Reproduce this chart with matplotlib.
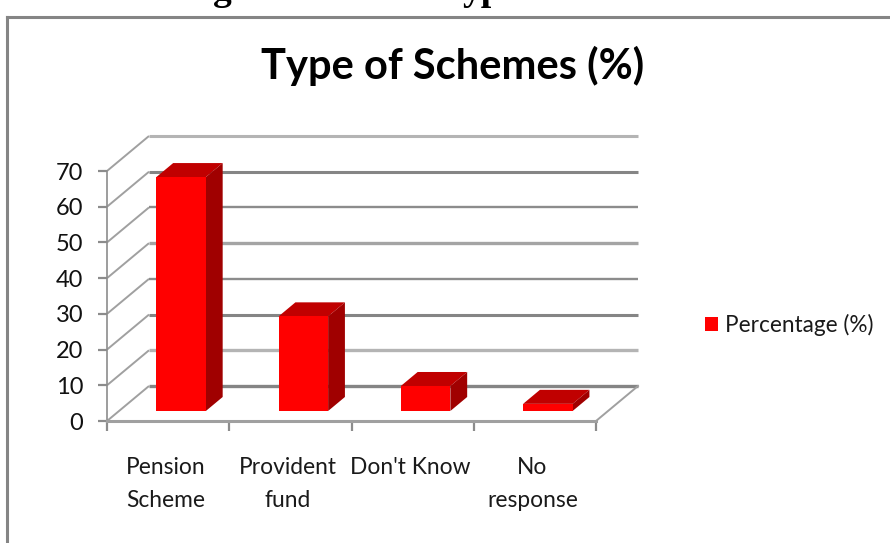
import matplotlib
matplotlib.use("Agg")
import matplotlib.pyplot as plt
from matplotlib.patches import Patch
from matplotlib.lines import Line2D

categories = ["Pension\nScheme", "Provident\nfund", "Don't Know", "No\nresponse"]
values = [65.5, 26.5, 7, 2]
yticks = [0, 10, 20, 30, 40, 50, 60, 70]
series_name = "Percentage (%)"
title = "Type of Schemes (%)"

W, H = 890, 543
FONT = "Lato"
plt.rcParams["font.family"] = [FONT, "DejaVu Sans"]

fig = plt.figure(figsize=(W / 100, H / 100), dpi=100, facecolor="white")

# axes: front plane x 107..596 px for 4 categories, y 421..171 px for 0..70
px_x = (596 - 107) / 4
px_y = (421 - 171) / 70
DX = 42 / px_x
DY = 35 / px_y
ax = fig.add_axes([107 / W, (H - 421) / H, (640 - 107) / W, (421 - 130) / H])
ax.set_xlim(0, (640 - 107) / px_x)
ax.set_ylim(0, (421 - 130) / px_y)
ax.patch.set_alpha(0)


def proj(x, y, d):
    return x + d * DX, y + d * DY


# walls and gridlines
grid_colors = ["#858585", "#b4b4b4", "#858585", "#8c8c8c", "#a4a4a4", "#8c8c8c", "#858585", "#b4b4b4"]
grid_widths = [2.4, 2.4, 2.2, 1.7, 2.4, 1.7, 2.2, 2.2]
n = len(categories)
for v, c, w in zip(yticks, grid_colors, grid_widths):
    x0, y0 = proj(0, v, 0)
    x1, y1 = proj(0, v, 1)
    x2, y2 = proj(n, v, 1)
    ax.plot([x0, x1], [y0, y1], color="#a0a0a0", lw=1.4, solid_capstyle="butt", zorder=1)
    ax.plot([x1, x2], [y1, y2], color=c, lw=w, solid_capstyle="butt", zorder=1)
x0, y0 = proj(n, 0, 0)
x1, y1 = proj(n, 0, 1)
ax.plot([x0, x1], [y0, y1], color="#a0a0a0", lw=1.4, zorder=1)

# bars
FRONT, BACK = 0.286, 0.686
BAR_W = 0.405
BAR_C = 0.508
for i, v in enumerate(values):
    xl, xr = i + BAR_C - BAR_W / 2, i + BAR_C + BAR_W / 2
    a = proj(xl, 0, FRONT)
    b = proj(xr, 0, FRONT)
    c = proj(xr, v, FRONT)
    e = proj(xl, v, FRONT)
    f = proj(xl, v, BACK)
    g = proj(xr, v, BACK)
    h = proj(xr, 0, BACK)
    ax.fill(*zip(e, c, g, f), color="#c00000", lw=0, zorder=3)
    ax.fill(*zip(b, h, g, c), color="#a00000", lw=0, zorder=3)
    ax.fill(*zip(a, b, c, e), color="#ff0000", lw=0, zorder=4)

# axes furniture
for s in ("top", "right"):
    ax.spines[s].set_visible(False)
ax.spines["left"].set_bounds(0, 70)
ax.spines["bottom"].set_bounds(0, n)
ax.spines["left"].set_color("#8c8c8c")
ax.spines["bottom"].set_color("#a0a0a0")
ax.spines["left"].set_linewidth(1.2)
ax.spines["bottom"].set_linewidth(2.2)
ax.set_yticks(yticks)
ax.set_yticklabels([str(v) for v in yticks])
ax.tick_params(axis="y", length=6.5, width=1.6, color="#8c8c8c", pad=10.5, labelsize=17, labelcolor="#111111")
ax.set_xticks(range(n + 1))
ax.set_xticklabels([""] * (n + 1))
ax.tick_params(axis="x", length=7, width=1.6, color="#8c8c8c")
ax.set_xticks([i + 0.48 for i in range(n)], minor=True)
ax.set_xticklabels(categories, minor=True, linespacing=1.68)
ax.tick_params(axis="x", which="minor", length=0, pad=26, labelsize=16.4, labelcolor="#1a1a1a")

# legend
handle = Patch(facecolor="#ff0000", edgecolor="none")
fig.legend([handle], [series_name], loc="center left",
           bbox_to_anchor=(687 / W, (H - 325) / H), frameon=False,
           fontsize=16.3, handlelength=0.58, handleheight=0.58, handletextpad=0.31,
           labelcolor="#1a1a1a", borderpad=0.3)

# title
fig.text(453 / W, (H - 66) / H, title, ha="center", va="center",
         fontsize=30, fontweight="bold", color="#000000")

# clipped heading of the page above the chart (only the descenders show)
for frag, cx in (("g", 222), ("yp", 482)):
    fig.text(cx / W, 1.0, frag, ha="center", va="baseline", fontsize=27,
             fontweight="bold", family="Liberation Serif", color="#000000")

# outer chart frame
fig.add_artist(Line2D([7 / W, 7 / W], [0, (H - 17) / H], color="#858585", lw=2.2))
fig.add_artist(Line2D([7 / W, 1], [(H - 17) / H, (H - 17) / H], color="#858585", lw=2.2))

fig.savefig("out.png", dpi=100)
